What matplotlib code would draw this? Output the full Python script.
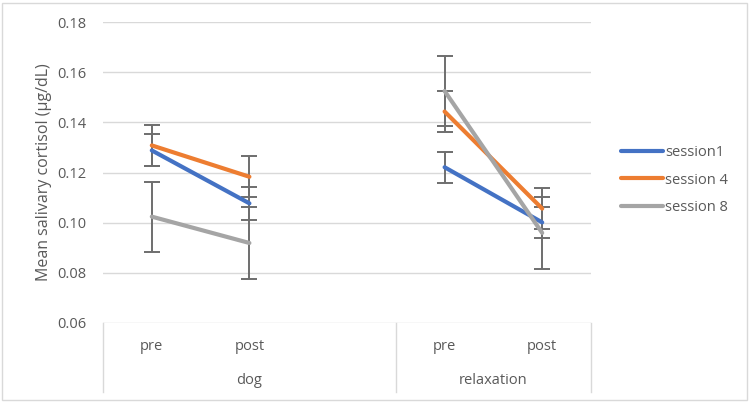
import numpy as np
import matplotlib
matplotlib.use("Agg")
import matplotlib.pyplot as plt
from matplotlib.patches import Rectangle
from matplotlib.transforms import blended_transform_factory

# ---- data ----
conditions = ["pre", "post", "", "pre", "post"]
groups = ["dog", "relaxation"]
series_names = ["session1", "session 4", "session 8"]
session1 = [0.1288, 0.1077, np.nan, 0.1221, 0.1001]
session4 = [0.1308, 0.1183, np.nan, 0.1443, 0.1056]
session8 = [0.1024, 0.0919, np.nan, 0.1525, 0.0959]
err1 = [0.0064, 0.0066, np.nan, 0.0062, 0.0063]
err4 = [0.0082, 0.0082, np.nan, 0.0082, 0.0083]
err8 = [0.0140, 0.0142, np.nan, 0.0140, 0.0143]
yticks = [0.06, 0.08, 0.10, 0.12, 0.14, 0.16, 0.18]
ylabel = "Mean salivary cortisol (µg/dL)"

colors = ["#4472C4", "#ED7D31", "#A5A5A5"]
txt = "#595959"
grid = "#D9D9D9"
plt.rcParams['font.family'] = ['Open Sans', 'DejaVu Sans']

fig = plt.figure(figsize=(7.5, 4.03), dpi=100)
ax = fig.add_axes([103/750, 1-323/403, (591-103)/750, (323-22)/403])

x = np.arange(len(conditions))
for vals, errs, c, name in zip([session1, session4, session8], [err1, err4, err8], colors, series_names):
    v = np.array(vals); e = np.array(errs)
    m = ~np.isnan(v)
    ax.errorbar(x[m], v[m], yerr=e[m], fmt='none', ecolor='#6E6E6E', elinewidth=1.4,
                capsize=5.5, capthick=1.4, zorder=2)
    ax.plot(x, v, color=c, lw=3.0, solid_capstyle='round', label=name, zorder=3)

ax.set_ylim(0.06, 0.18)
ax.set_xlim(-0.5, len(conditions) - 0.5)
ax.set_yticks(yticks)
ax.set_yticklabels([f"{t:.2f}" for t in yticks], color=txt, fontsize=10.5)
ax.tick_params(axis='y', length=0, pad=12)
ax.set_xticks([])
for s in ax.spines.values():
    s.set_visible(False)
for t in yticks:
    ax.axhline(t, color=grid, lw=1.0, zorder=0)

ax.set_ylabel(ylabel, color=txt, fontsize=11.5, labelpad=4)

# category labels
tr = blended_transform_factory(ax.transData, ax.transAxes)
for xi, lab in zip(x, conditions):
    if lab:
        ax.text(xi, -23/301, lab, transform=tr, ha='center', va='center', color=txt, fontsize=10.5)
group_spans = [(-0.5, 2.5), (2.5, 4.5)]
for (a, b), g in zip(group_spans, groups):
    ax.text((a + b) / 2, -57/301, g, transform=tr, ha='center', va='center', color=txt, fontsize=10.5)
for xs in [-0.5, 2.5, 4.5]:
    ax.plot([xs, xs], [0, -69/301], transform=tr, color=grid, lw=1.0, clip_on=False)

leg = ax.legend(loc='center left', bbox_to_anchor=(608/750, 1-180/403), bbox_transform=fig.transFigure,
                frameon=False, fontsize=10.5, handlelength=2.9, handletextpad=0.1, labelspacing=0.85)
for t in leg.get_texts():
    t.set_color(txt)

fig.patches.append(Rectangle((2/750, 3/403), 745/750, 397/403, transform=fig.transFigure,
                             fill=False, edgecolor=grid, lw=1.0))
fig.savefig("out.png", dpi=100)
